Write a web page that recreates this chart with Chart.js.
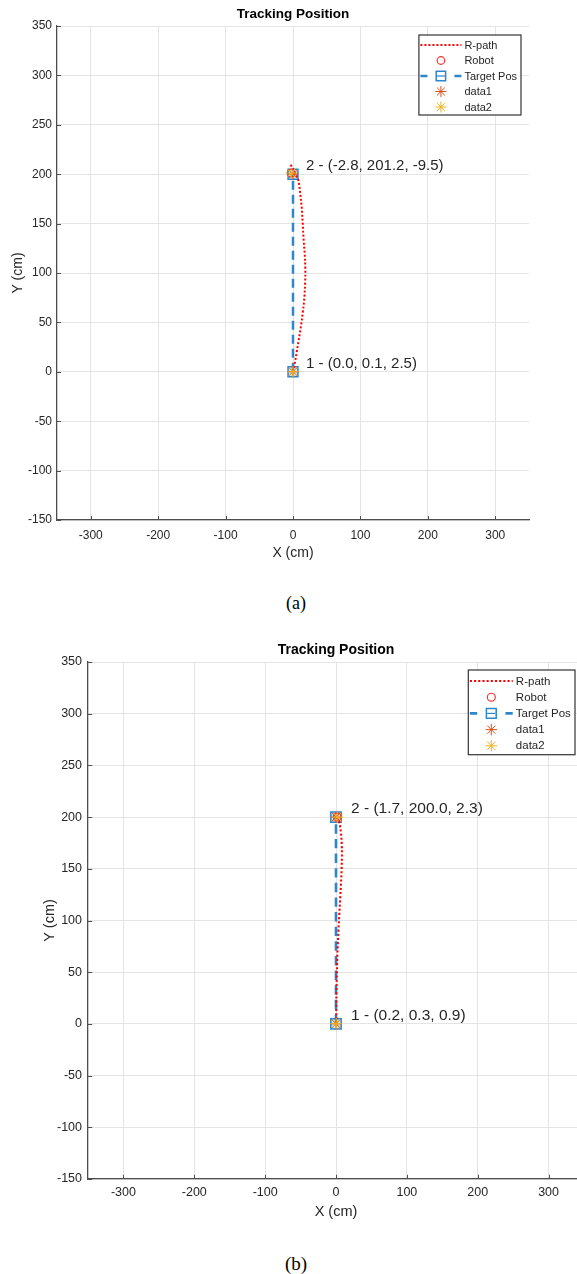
<!DOCTYPE html>
<html><head><meta charset="utf-8">
<script src="https://cdn.jsdelivr.net/npm/chart.js@4/dist/chart.umd.min.js"></script>
<style>
html,body{margin:0;padding:0;background:#fff;overflow:hidden;width:577px;height:1274px;position:relative;}
.wrap{position:absolute;left:0;overflow:hidden;width:577px;}
.box{position:relative;}
.cap{position:absolute;font-family:"Liberation Serif","Times New Roman",serif;color:#000;transform:translate(-50%,-50%);white-space:nowrap;line-height:1;}
</style></head><body>
<div class="wrap" style="top:0;height:580px;"><div class="box" style="width:577px;height:580px"><canvas id="cA"></canvas></div></div>
<div class="cap" style="left:296px;top:603px;font-size:18px">(a)</div>
<div class="wrap" style="top:630px;height:612px;"><div class="box" style="width:600px;height:609px"><canvas id="cB"></canvas></div></div>
<div class="cap" style="left:296px;top:1263px;font-size:19px">(b)</div>
<script>
// ---------- data ----------
const chartTitle = 'Tracking Position';
const xAxisTitle = 'X (cm)';
const yAxisTitle = 'Y (cm)';
const xTicks = [-300, -200, -100, 0, 100, 200, 300];
const yTicks = [-150, -100, -50, 0, 50, 100, 150, 200, 250, 300, 350];
const seriesNames = ['R-path', 'Robot', 'Target Pos', 'data1', 'data2'];

// (a)
const pathAX = [0.0, 3.0, 5.5, 8.4, 11.5, 14.5, 16.8, 18.0, 18.2, 17.3, 15.8, 14.4, 12.9, 10.6, 7.9, 4.8, 2.0, -1.2, -4.0];
const pathAY = [0.1, 10, 20, 32, 45, 60, 75, 90, 105, 120, 133, 150, 166, 181, 194, 199, 203, 207, 210];
const robotAX = [-2.8];
const robotAY = [201.2];
const targetAX = [0, 0];
const targetAY = [0, 200];
const data1AX = [0, 0];
const data1AY = [0, 200];
const data2AX = [0.0, -2.8];
const data2AY = [0.1, 201.2];
const labelsA = ['1 - (0.0, 0.1, 2.5)', '2 - (-2.8, 201.2, -9.5)'];

// (b)
const pathBX = [0.2, 0.3, 0.6, 1.0, 1.6, 2.4, 3.4, 4.6, 5.8, 7.0, 7.9, 8.3, 8.0, 6.8, 4.6, 1.7];
const pathBY = [0.3, 15, 30, 45, 60, 75, 90, 105, 120, 135, 150, 163, 175, 186, 195, 200];
const robotBX = [1.7];
const robotBY = [200.0];
const targetBX = [0, 0];
const targetBY = [0, 200];
const data1BX = [0, 0];
const data1BY = [0, 200];
const data2BX = [0.2, 1.7];
const data2BY = [0.3, 200.0];
const labelsB = ['1 - (0.2, 0.3, 0.9)', '2 - (1.7, 200.0, 2.3)'];

// ---------- style ----------
const FONT = '"Liberation Sans", Arial, Helvetica, sans-serif';
const GRID = '#e4e4e4';
const AXIS = '#4d4d4d';
const TEXT = '#262626';
const C_PATH = '#ff0000', C_ROBOT = '#ff3030', C_TARGET = '#2f86cc', C_D1 = '#d95319', C_D2 = '#edb120';

function zip(xs, ys) { return xs.map((x, i) => ({ x: x, y: ys[i] })); }

function marker(ctx, style, r, bw, x, y, stroke, fill) {
  ctx.save();
  ctx.setLineDash([]);
  ctx.strokeStyle = stroke; ctx.fillStyle = fill; ctx.lineWidth = bw;
  if (Chart.helpers && Chart.helpers.drawPoint) {
    Chart.helpers.drawPoint(ctx, { pointStyle: style, rotation: 0, radius: r, borderWidth: bw }, x, y);
  } else {
    ctx.beginPath(); ctx.arc(x, y, r, 0, Math.PI * 2); ctx.stroke();
  }
  ctx.restore();
}

const overlay = {
  id: 'overlay',
  afterDraw(chart, args, L) {
    const ctx = chart.ctx, ca = chart.chartArea, s = L.s;
    const xs = chart.scales.x, ys = chart.scales.y;
    ctx.save();
    // inward tick marks
    ctx.strokeStyle = AXIS; ctx.lineWidth = 1; ctx.setLineDash([]);
    xs.ticks.forEach(t => { const p = Math.round(xs.getPixelForValue(t.value)) + 0.5; ctx.beginPath(); ctx.moveTo(p, ca.bottom); ctx.lineTo(p, ca.bottom - 4 * s); ctx.stroke(); });
    ys.ticks.forEach(t => { const p = Math.round(ys.getPixelForValue(t.value)) + 0.5; ctx.beginPath(); ctx.moveTo(ca.left, p); ctx.lineTo(ca.left + 4 * s, p); ctx.stroke(); });
    // data labels at targets
    ctx.fillStyle = TEXT; ctx.font = (L.labelSize) + 'px ' + FONT; ctx.textAlign = 'left'; ctx.textBaseline = 'middle';
    L.labels.forEach((txt, i) => {
      const px = xs.getPixelForValue(L.anchorX[i]) + L.labelDx;
      const py = ys.getPixelForValue(L.anchorY[i]) + L.labelDy;
      ctx.fillText(txt, px, py);
    });
    // legend
    const dss = chart.data.datasets;
    ctx.font = L.legendSize + 'px ' + FONT;
    const tw = Math.max.apply(null, dss.map(d => ctx.measureText(d.label).width));
    const sampleW = 41 * s;
    const boxW = 1.5 * s + sampleW + 3 * s + tw + 4 * s;
    const right = ca.right - L.legRightOff;
    const left = right - boxW;
    const top = ca.top + L.legTopOff;
    const boxH = L.legRow0 * 2 + L.legRowH * (dss.length - 1) - 2 * s;
    ctx.fillStyle = '#fff'; ctx.fillRect(left, top, boxW, boxH);
    ctx.strokeStyle = '#333'; ctx.lineWidth = 1.2; ctx.strokeRect(left, top, boxW, boxH);
    dss.forEach((d, i) => {
      const y = top + L.legRow0 + i * L.legRowH;
      const x0 = left + 1.5 * s, x1 = x0 + sampleW, xm = (x0 + x1) / 2;
      if (d.showLine) {
        ctx.save();
        ctx.strokeStyle = d.borderColor; ctx.lineWidth = d.borderWidth;
        ctx.setLineDash(d.legendDash || d.borderDash || []);
        ctx.beginPath(); ctx.moveTo(x0, y); ctx.lineTo(x1, y); ctx.stroke();
        ctx.restore();
      }
      if (d.pointRadius > 0) {
        marker(ctx, d.pointStyle, d.pointRadius * (d.legendScale || 1), d.pointBorderWidth, xm, y, d.pointBorderColor, 'rgba(0,0,0,0)');
        if (d.showLine) { ctx.save(); ctx.strokeStyle = d.borderColor; ctx.lineWidth = 1.2; ctx.beginPath(); ctx.moveTo(xm - 4 * s, y); ctx.lineTo(xm + 4 * s, y); ctx.stroke(); ctx.restore(); }
      }
      ctx.fillStyle = TEXT; ctx.textAlign = 'left'; ctx.textBaseline = 'middle';
      ctx.fillText(d.label, x1 + 3 * s, y + 0.5);
    });
    ctx.restore();
  }
};

function buildChart(id, D, L) {
  const s = L.s;
  const datasets = [
    { label: seriesNames[0], data: zip(D.pathX, D.pathY), showLine: true, borderColor: C_PATH, backgroundColor: C_PATH,
      borderWidth: 2 * s, borderDash: [2 * s, 2 * s], pointRadius: 0, tension: 0.35, order: 3 },
    { label: seriesNames[1], data: zip(D.robotX, D.robotY), showLine: false, pointStyle: 'circle', pointRadius: 3.8 * s,
      pointBorderWidth: 1.2, borderColor: C_ROBOT, pointBorderColor: C_ROBOT, pointBackgroundColor: 'rgba(0,0,0,0)', order: 2 },
    { label: seriesNames[2], data: zip(D.targetX, D.targetY), showLine: true, borderColor: C_TARGET, borderWidth: 2.5 * s,
      borderDash: [9 * s, 5 * s], legendDash: [7 * s, 27 * s], pointStyle: 'rect', pointRadius: 7 * s, legendScale: 0.95,
      pointBorderWidth: 1.5, pointBorderColor: C_TARGET, pointBackgroundColor: 'rgba(120,175,220,0.35)', order: 4 },
    { label: seriesNames[3], data: zip(D.d1X, D.d1Y), showLine: false, pointStyle: 'star', pointRadius: 5.5 * s,
      pointBorderWidth: 1, borderColor: C_D1, pointBorderColor: C_D1, pointBackgroundColor: C_D1, order: 1 },
    { label: seriesNames[4], data: zip(D.d2X, D.d2Y), showLine: false, pointStyle: 'star', pointRadius: 5.5 * s,
      pointBorderWidth: 1, borderColor: C_D2, pointBorderColor: C_D2, pointBackgroundColor: C_D2, order: 0 }
  ];
  return new Chart(document.getElementById(id), {
    type: 'scatter',
    data: { datasets: datasets },
    plugins: [overlay],
    options: {
      responsive: true, maintainAspectRatio: false, animation: false, events: [],
      layout: { padding: { left: 0, right: L.padRight, top: 0, bottom: 0 } },
      plugins: {
        legend: { display: false }, tooltip: { enabled: false },
        title: { display: true, text: chartTitle, fullSize: false, color: '#000',
          font: { family: FONT, size: L.titleSize, weight: 'bold' },
          padding: { top: L.titlePadTop, bottom: L.titlePadBot } },
        overlay: Object.assign({}, L, { labels: D.labels, anchorX: D.targetX, anchorY: D.targetY })
      },
      scales: {
        x: {
          type: 'linear', min: -350, max: 350,
          afterBuildTicks: sc => { sc.ticks = xTicks.map(v => ({ value: v })); },
          afterFit: sc => { sc.height = L.xH; },
          grid: { color: GRID, lineWidth: 1, drawTicks: false },
          border: { color: AXIS, width: 1.3 },
          ticks: { autoSkip: false, maxRotation: 0, padding: L.xTickPad, color: TEXT, font: { family: FONT, size: L.tickSize } },
          title: { display: true, text: xAxisTitle, color: TEXT, font: { family: FONT, size: L.axisTitleSize }, padding: { top: 0, bottom: L.xTitlePadB } }
        },
        y: {
          type: 'linear', min: -150, max: 350,
          afterBuildTicks: sc => { sc.ticks = yTicks.map(v => ({ value: v })); },
          afterFit: sc => { sc.width = L.yW; },
          grid: { color: GRID, lineWidth: 1, drawTicks: false },
          border: { color: AXIS, width: 1.3 },
          ticks: { autoSkip: false, padding: L.yTickPad, color: TEXT, font: { family: FONT, size: L.tickSize } },
          title: { display: true, text: yAxisTitle, color: TEXT, font: { family: FONT, size: L.axisTitleSize }, padding: { top: L.yTitlePadT, bottom: 0 } }
        }
      }
    }
  });
}

buildChart('cA',
  { pathX: pathAX, pathY: pathAY, robotX: robotAX, robotY: robotAY, targetX: targetAX, targetY: targetAY,
    d1X: data1AX, d1Y: data1AY, d2X: data2AX, d2Y: data2AY, labels: labelsA },
  { s: 1, yW: 57, xH: 60, padRight: 48, titleSize: 13.5, titlePadTop: 5.9, titlePadBot: 3.9,
    xTickPad: 8.8, xTitlePadB: 18.6, yTitlePadT: 9.6, yTickPad: 5, tickSize: 12, axisTitleSize: 14,
    labelSize: 15, labelDx: 13, labelDy: -8, legendSize: 11, legRightOff: 8, legTopOff: 9, legRow0: 10, legRowH: 15.5 });

buildChart('cB',
  { pathX: pathBX, pathY: pathBY, robotX: robotBX, robotY: robotBY, targetX: targetBX, targetY: targetBY,
    d1X: data1BX, d1Y: data1BY, d2X: data2BX, d2Y: data2BY, labels: labelsB },
  { s: 1.045, yW: 88, xH: 60, padRight: 16, titleSize: 14, titlePadTop: 11.6, titlePadBot: 3.6,
    xTickPad: 6.5, xTitlePadB: 18.3, yTitlePadT: 41.3, yTickPad: 6, tickSize: 12.5, axisTitleSize: 14.5,
    labelSize: 15.5, labelDx: 15, labelDy: -8, legendSize: 11.5, legRightOff: 9, legTopOff: 8, legRow0: 11, legRowH: 16.2 });
</script>
</body></html>
